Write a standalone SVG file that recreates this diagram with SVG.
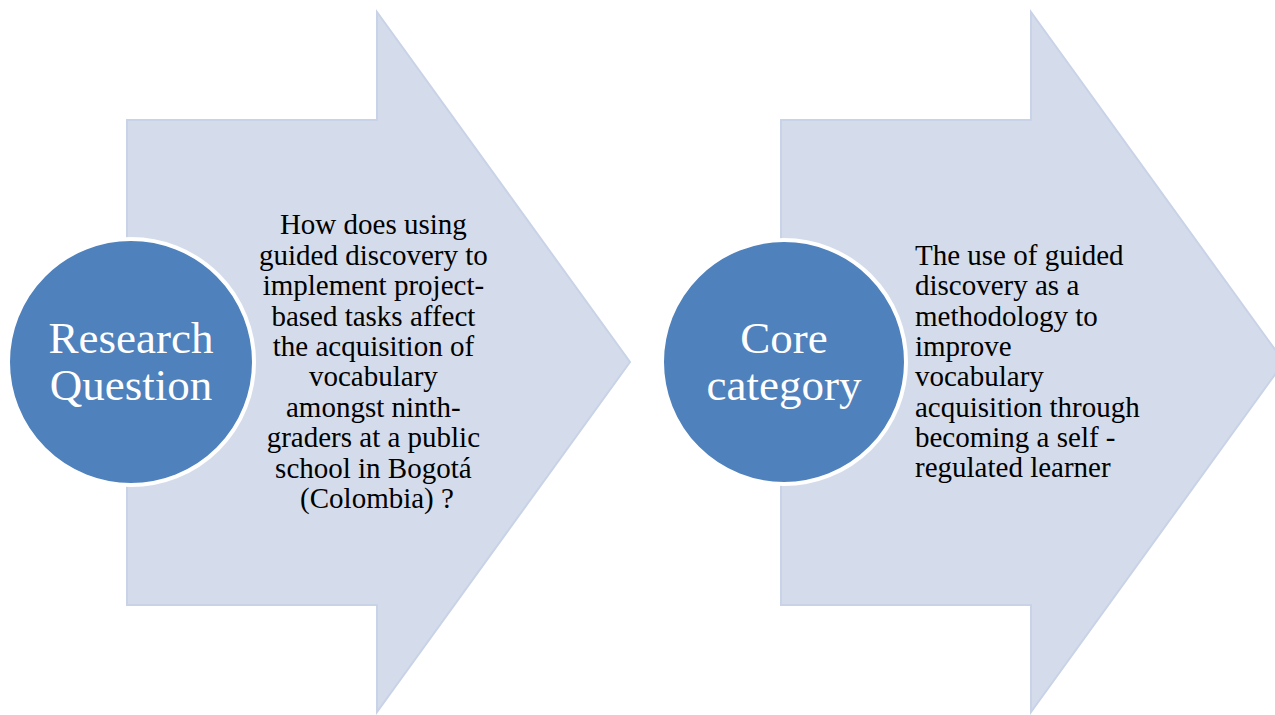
<svg xmlns="http://www.w3.org/2000/svg" width="1275" height="715" viewBox="0 0 1275 715">
<style>
.arrow{fill:#D4DCEB;stroke:#C9D3E7;stroke-width:2;stroke-linejoin:miter}
.circle{fill:#4F81BD;stroke:#FFFFFF;stroke-width:4}
.ctext{font-family:"Liberation Serif","Times New Roman",serif;font-size:45px;fill:#FFFFFF;text-anchor:middle}
.btext{font-family:"Liberation Serif","Times New Roman",serif;font-size:29px;fill:#000000}
</style>
<rect width="1275" height="715" fill="#FFFFFF"/>
<g id="arrow1">
<polygon class="arrow" points="127,120 377,120 377,12 630,362 377,712 377,605 127,605"/>
<text class="btext" text-anchor="middle">
<tspan x="377" y="234">How does using</tspan>
<tspan x="377" y="264.5">guided discovery to</tspan>
<tspan x="377" y="295">implement project-</tspan>
<tspan x="377" y="325.5">based tasks affect</tspan>
<tspan x="377" y="356">the acquisition of</tspan>
<tspan x="377" y="386">vocabulary</tspan>
<tspan x="377" y="416.5">amongst ninth-</tspan>
<tspan x="377" y="447">graders at a public</tspan>
<tspan x="377" y="477.5">school in Bogotá</tspan>
<tspan x="377" y="508">(Colombia) ?</tspan>
</text>
</g>
<g id="arrow2">
<polygon class="arrow" points="781,120 1031,120 1031,12 1284,362 1031,712 1031,605 781,605"/>
<text class="btext">
<tspan x="915" y="265">The use of guided</tspan>
<tspan x="915" y="295.3">discovery as a</tspan>
<tspan x="915" y="325.6">methodology to</tspan>
<tspan x="915" y="356">improve</tspan>
<tspan x="915" y="386.2">vocabulary</tspan>
<tspan x="915" y="416.5">acquisition through</tspan>
<tspan x="915" y="446.8">becoming a self -</tspan>
<tspan x="915" y="477">regulated learner</tspan>
</text>
</g>
<g id="circle1">
<circle class="circle" cx="131" cy="362" r="123"/>
<text class="ctext"><tspan x="131" y="353">Research</tspan><tspan x="131" y="400">Question</tspan></text>
</g>
<g id="circle2">
<circle class="circle" cx="784" cy="362" r="122"/>
<text class="ctext"><tspan x="784" y="353">Core</tspan><tspan x="784" y="400">category</tspan></text>
</g>
<g id="connectors"></g>
</svg>
